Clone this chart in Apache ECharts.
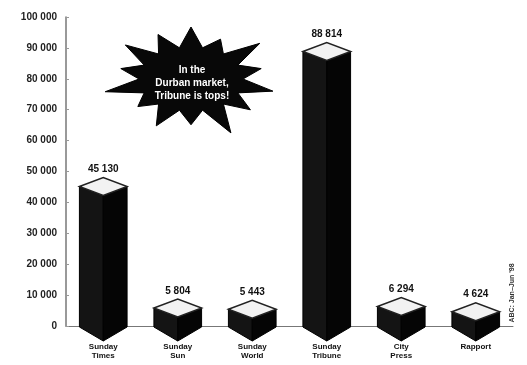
<!DOCTYPE html>
<html><head><meta charset="utf-8">
<script src="https://cdn.jsdelivr.net/npm/echarts@6/dist/echarts.min.js"></script>
<style>html,body{margin:0;padding:0;background:#fff}#c{width:527px;height:365px}</style>
</head><body><div id="c"></div>
<script>
const categories = ['Sunday\nTimes', 'Sunday\nSun', 'Sunday\nWorld', 'Sunday\nTribune', 'City\nPress', 'Rapport'];
const circulation = [45130, 5804, 5443, 88814, 6294, 4624];
const valueLabels = ['45 130', '5 804', '5 443', '88 814', '6 294', '4 624'];
const yTicks = { min: 0, max: 100000, interval: 10000 };
const calloutText = 'In the\nDurban market,\nTribune is tops!';
const sourceText = 'ABC: Jan–Jun \'98';

function fmt(v){ return String(v).replace(/\B(?=(\d{3})+(?!\d))/g, ' '); }

function starPoints(cx, cy, rxo, ryo, rxi, ryi, n){
  const pts = [];
  const rj = [1, 0.85, 1.1, 0.9, 1.05, 0.95, 1.15, 0.88];
  for (let i = 0; i < n * 2; i++){
    const a = Math.PI * i / n - Math.PI / 2;
    const outer = i % 2 === 0;
    const k = outer ? rj[(i/2) % rj.length] : 1;
    pts.push([cx + Math.cos(a) * (outer ? rxo * k : rxi), cy + Math.sin(a) * (outer ? ryo * k : ryi)]);
  }
  return pts;
}

const chart = echarts.init(document.getElementById('c'), null, {renderer: 'canvas'});
chart.setOption({
  animation: false,
  grid: { left: 66, right: 14, top: 17, bottom: 39 },
  xAxis: {
    type: 'category', data: categories,
    axisLine: { show: true, lineStyle: { color: '#777', width: 1 } },
    axisTick: { show: false },
    axisLabel: { color: '#111', fontSize: 8, fontWeight: 'bold', fontFamily: 'Liberation Sans', lineHeight: 9, margin: 16 }
  },
  yAxis: {
    type: 'value', min: yTicks.min, max: yTicks.max, interval: yTicks.interval,
    axisLine: { show: true, lineStyle: { color: '#777', width: 1.5 } },
    axisTick: { show: true, length: 3, inside: true, lineStyle: { color: '#999' } },
    splitLine: { show: false },
    axisLabel: { color: '#222', fontSize: 10, fontWeight: 'bold', fontFamily: 'Liberation Sans', margin: 9, formatter: fmt }
  },
  series: [{
    type: 'custom',
    data: circulation.map((v, i) => [i, v]),
    renderItem: function(params, api){
      const top = api.coord([api.value(0), api.value(1)]);
      const base = api.coord([api.value(0), 0]);
      const bw = api.size([1, 0])[0] * 0.64;
      const hw = bw / 2, d = 9;
      const x = top[0], yt = top[1], yb = base[1] + 1;
      const idx = params.dataIndex;
      return { type: 'group', children: [
        { type: 'polygon', shape: { points: [[x - hw, yt], [x, yt + d], [x, yb + d + 5], [x - hw, yb]] },
          style: { fill: '#141414', stroke: '#000', lineWidth: 1 } },
        { type: 'polygon', shape: { points: [[x, yt + d], [x + hw, yt], [x + hw, yb], [x, yb + d + 5]] },
          style: { fill: '#050505', stroke: '#000', lineWidth: 1 } },
        { type: 'polygon', shape: { points: [[x - hw, yt], [x, yt - d], [x + hw, yt], [x, yt + d]] },
          style: { fill: '#f2f2f2', stroke: '#222', lineWidth: 1.5 } },
        { type: 'text', style: { text: valueLabels[idx], x: x, y: yt - d - 3, align: 'center', verticalAlign: 'bottom',
          fill: '#111', font: 'bold 10px "Liberation Sans"' } }
      ]};
    }
  }],
  graphic: [
    { type: 'polygon', shape: { points: starPoints(191, 79, 80, 52, 52, 32, 14) },
      style: { fill: '#080808', stroke: '#000' } },
    { type: 'text', x: 192, y: 83, style: { text: calloutText, align: 'center', verticalAlign: 'middle',
      fill: '#fff', font: 'bold 10px "Liberation Sans"', lineHeight: 13 } },
    { type: 'text', x: 512, y: 293, rotation: Math.PI / 2, style: { text: sourceText, align: 'center', verticalAlign: 'middle',
      fill: '#333', font: 'bold 7px "Liberation Sans"' } }
  ]
});
</script></body></html>
